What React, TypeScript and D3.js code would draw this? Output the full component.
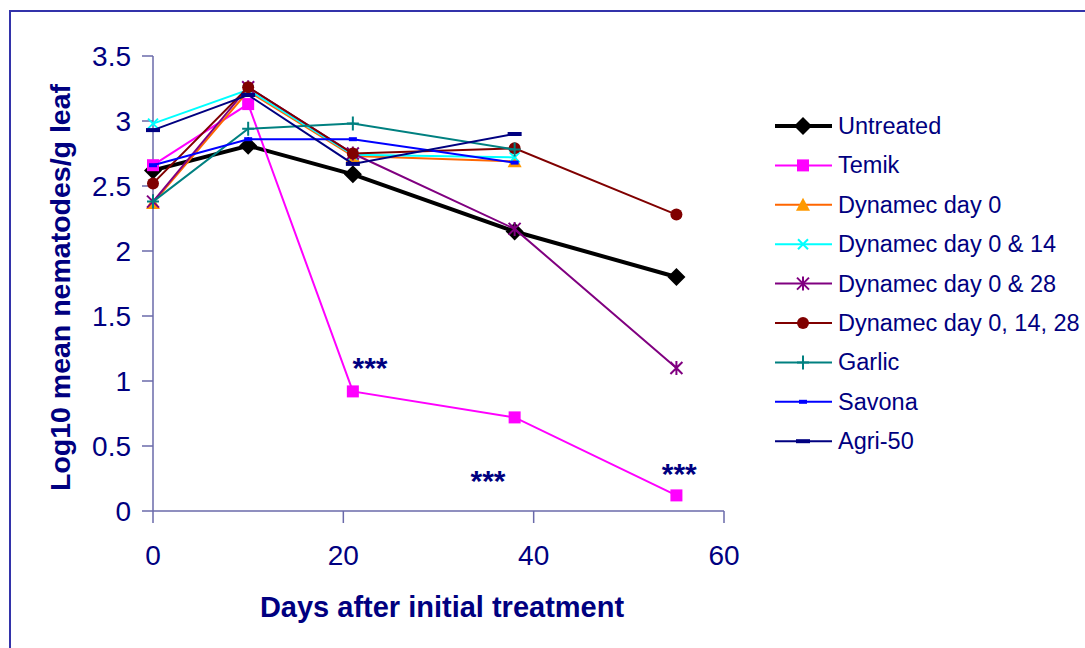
import React from "react"
import * as d3 from "d3"

// days when samples were taken
const days = [0, 10, 21, 38, 55]

const untreated = [2.62, 2.81, 2.59, 2.15, 1.8]
const temik = [2.66, 3.13, 0.92, 0.72, 0.12]
const dynamec0 = [2.37, 3.23, 2.73, 2.69]
const dynamec014 = [2.98, 3.24, 2.74, 2.72]
const dynamec028 = [2.38, 3.26, 2.75, 2.17, 1.1]
const dynamec01428 = [2.52, 3.26, 2.75, 2.79, 2.28]
const garlic = [2.38, 2.94, 2.98, 2.78]
const savona = [2.66, 2.86, 2.86, 2.68]
const agri50 = [2.93, 3.2, 2.67, 2.9]

const xTicks = [0, 20, 40, 60]
const yTicks = [0, 0.5, 1, 1.5, 2, 2.5, 3, 3.5]

// significance marks next to Temik (day, value)
const stars = [
  { day: 22.8, value: 1.15 },
  { day: 35.2, value: 0.28 },
  { day: 55.3, value: 0.33 },
]

const series = [
  { name: "Untreated", values: untreated, line: "#000000", fill: "#000000", marker: "diamond", width: 4 },
  { name: "Temik", values: temik, line: "#ff00ff", fill: "#ff00ff", marker: "square", width: 2 },
  { name: "Dynamec day 0", values: dynamec0, line: "#ff6600", fill: "#ff9900", marker: "triangle", width: 2 },
  { name: "Dynamec day 0 & 14", values: dynamec014, line: "#00ffff", fill: "#00ffff", marker: "x", width: 2 },
  { name: "Dynamec day 0 & 28", values: dynamec028, line: "#800080", fill: "#800080", marker: "star", width: 2 },
  { name: "Dynamec day 0, 14, 28", values: dynamec01428, line: "#800000", fill: "#800000", marker: "circle", width: 2 },
  { name: "Garlic", values: garlic, line: "#008080", fill: "#008080", marker: "plus", width: 2 },
  { name: "Savona", values: savona, line: "#0000ff", fill: "#0000ff", marker: "dashS", width: 2 },
  { name: "Agri-50", values: agri50, line: "#000080", fill: "#000080", marker: "dashL", width: 2 },
]

const navy = "#000080"
const axisColor = "#6a6aaa"
const font = "'Liberation Sans', Arial, sans-serif"

function Marker({ type, x, y, color }: { type: string; x: number; y: number; color: string }) {
  switch (type) {
    case "diamond":
      return <path d={`M${x},${y - 9}L${x + 9},${y}L${x},${y + 9}L${x - 9},${y}Z`} fill={color} />
    case "square":
      return <rect x={x - 6} y={y - 6} width={12} height={12} fill={color} />
    case "triangle":
      return <path d={`M${x},${y - 7}L${x + 7},${y + 6}L${x - 7},${y + 6}Z`} fill={color} />
    case "x":
      return <path d={`M${x - 5},${y - 5}L${x + 5},${y + 5}M${x + 5},${y - 5}L${x - 5},${y + 5}`} stroke={color} strokeWidth={2} />
    case "star":
      return (
        <path
          d={`M${x - 6},${y - 6}L${x + 6},${y + 6}M${x + 6},${y - 6}L${x - 6},${y + 6}M${x},${y - 7}L${x},${y + 7}`}
          stroke={color}
          strokeWidth={2}
        />
      )
    case "circle":
      return <circle cx={x} cy={y} r={6} fill={color} />
    case "plus":
      return <path d={`M${x - 6},${y}L${x + 6},${y}M${x},${y - 7}L${x},${y + 7}`} stroke={color} strokeWidth={2} />
    case "dashS":
      return <rect x={x - 4} y={y - 2} width={8} height={4} fill={color} />
    case "dashL":
      return <rect x={x - 7} y={y - 2} width={14} height={4} fill={color} />
    default:
      return null
  }
}

export default function App() {
  const x = d3.scaleLinear().domain([0, 60]).range([153, 724])
  const y = d3.scaleLinear().domain([0, 3.5]).range([511, 56])

  const line = d3
    .line<number>()
    .x((_, i) => x(days[i]))
    .y(d => y(d))

  const legendX = 775
  const legendY = 126
  const legendStep = 39.4

  return (
    <svg
      width={1085}
      height={648}
      style={{ position: "absolute", left: 0, top: 0, background: "#fff" }}
      fontFamily={font}
    >
      {/* outer frame */}
      <rect x={10} y={11} width={1100} height={660} fill="none" stroke="#3333aa" strokeWidth={2} />

      {/* axes */}
      <line x1={x(0)} x2={x(60)} y1={y(0)} y2={y(0)} stroke={axisColor} strokeWidth={1.5} />
      <line x1={x(0)} x2={x(0)} y1={y(0)} y2={y(3.5)} stroke={axisColor} strokeWidth={1.5} />
      {xTicks.map(t => (
        <g key={"x" + t}>
          <line x1={x(t)} x2={x(t)} y1={y(0)} y2={y(0) + 12} stroke={axisColor} strokeWidth={1.5} />
          <text x={x(t)} y={565} textAnchor="middle" fontSize={28} fill={navy}>
            {t}
          </text>
        </g>
      ))}
      {yTicks.map(t => (
        <g key={"y" + t}>
          <line x1={x(0) - 11} x2={x(0)} y1={y(t)} y2={y(t)} stroke={axisColor} strokeWidth={1.5} />
          <text x={131} y={y(t) + 10} textAnchor="end" fontSize={28} fill={navy}>
            {t}
          </text>
        </g>
      ))}

      {/* titles */}
      <text x={442} y={617} textAnchor="middle" fontSize={29} fontWeight="bold" fill={navy}>
        Days after initial treatment
      </text>
      <text
        transform={`translate(70,${(y(0) + y(3.5)) / 2 + 4}) rotate(-90)`}
        textAnchor="middle"
        fontSize={28.5}
        fontWeight="bold"
        fill={navy}
      >
        Log10 mean nematodes/g leaf
      </text>

      {/* series */}
      {series.map(s => (
        <g key={s.name}>
          <path d={line(s.values) || ""} fill="none" stroke={s.line} strokeWidth={s.width} />
          {s.values.map((v, i) => (
            <Marker key={i} type={s.marker} x={x(days[i])} y={y(v)} color={s.fill} />
          ))}
        </g>
      ))}

      {/* significance */}
      {stars.map((st, i) => (
        <text key={i} x={x(st.day)} y={y(st.value) + 16} textAnchor="middle" fontSize={30} fontWeight="bold" fill={navy}>
          ***
        </text>
      ))}

      {/* legend */}
      {series.map((s, i) => {
        const ly = legendY + i * legendStep
        return (
          <g key={"leg" + s.name}>
            <line x1={legendX} x2={legendX + 57} y1={ly} y2={ly} stroke={s.line} strokeWidth={s.width} />
            <Marker type={s.marker} x={legendX + 28} y={ly} color={s.fill} />
            <text x={legendX + 63} y={ly + 8} fontSize={23.5} fill={navy}>
              {s.name}
            </text>
          </g>
        )
      })}
    </svg>
  )
}
